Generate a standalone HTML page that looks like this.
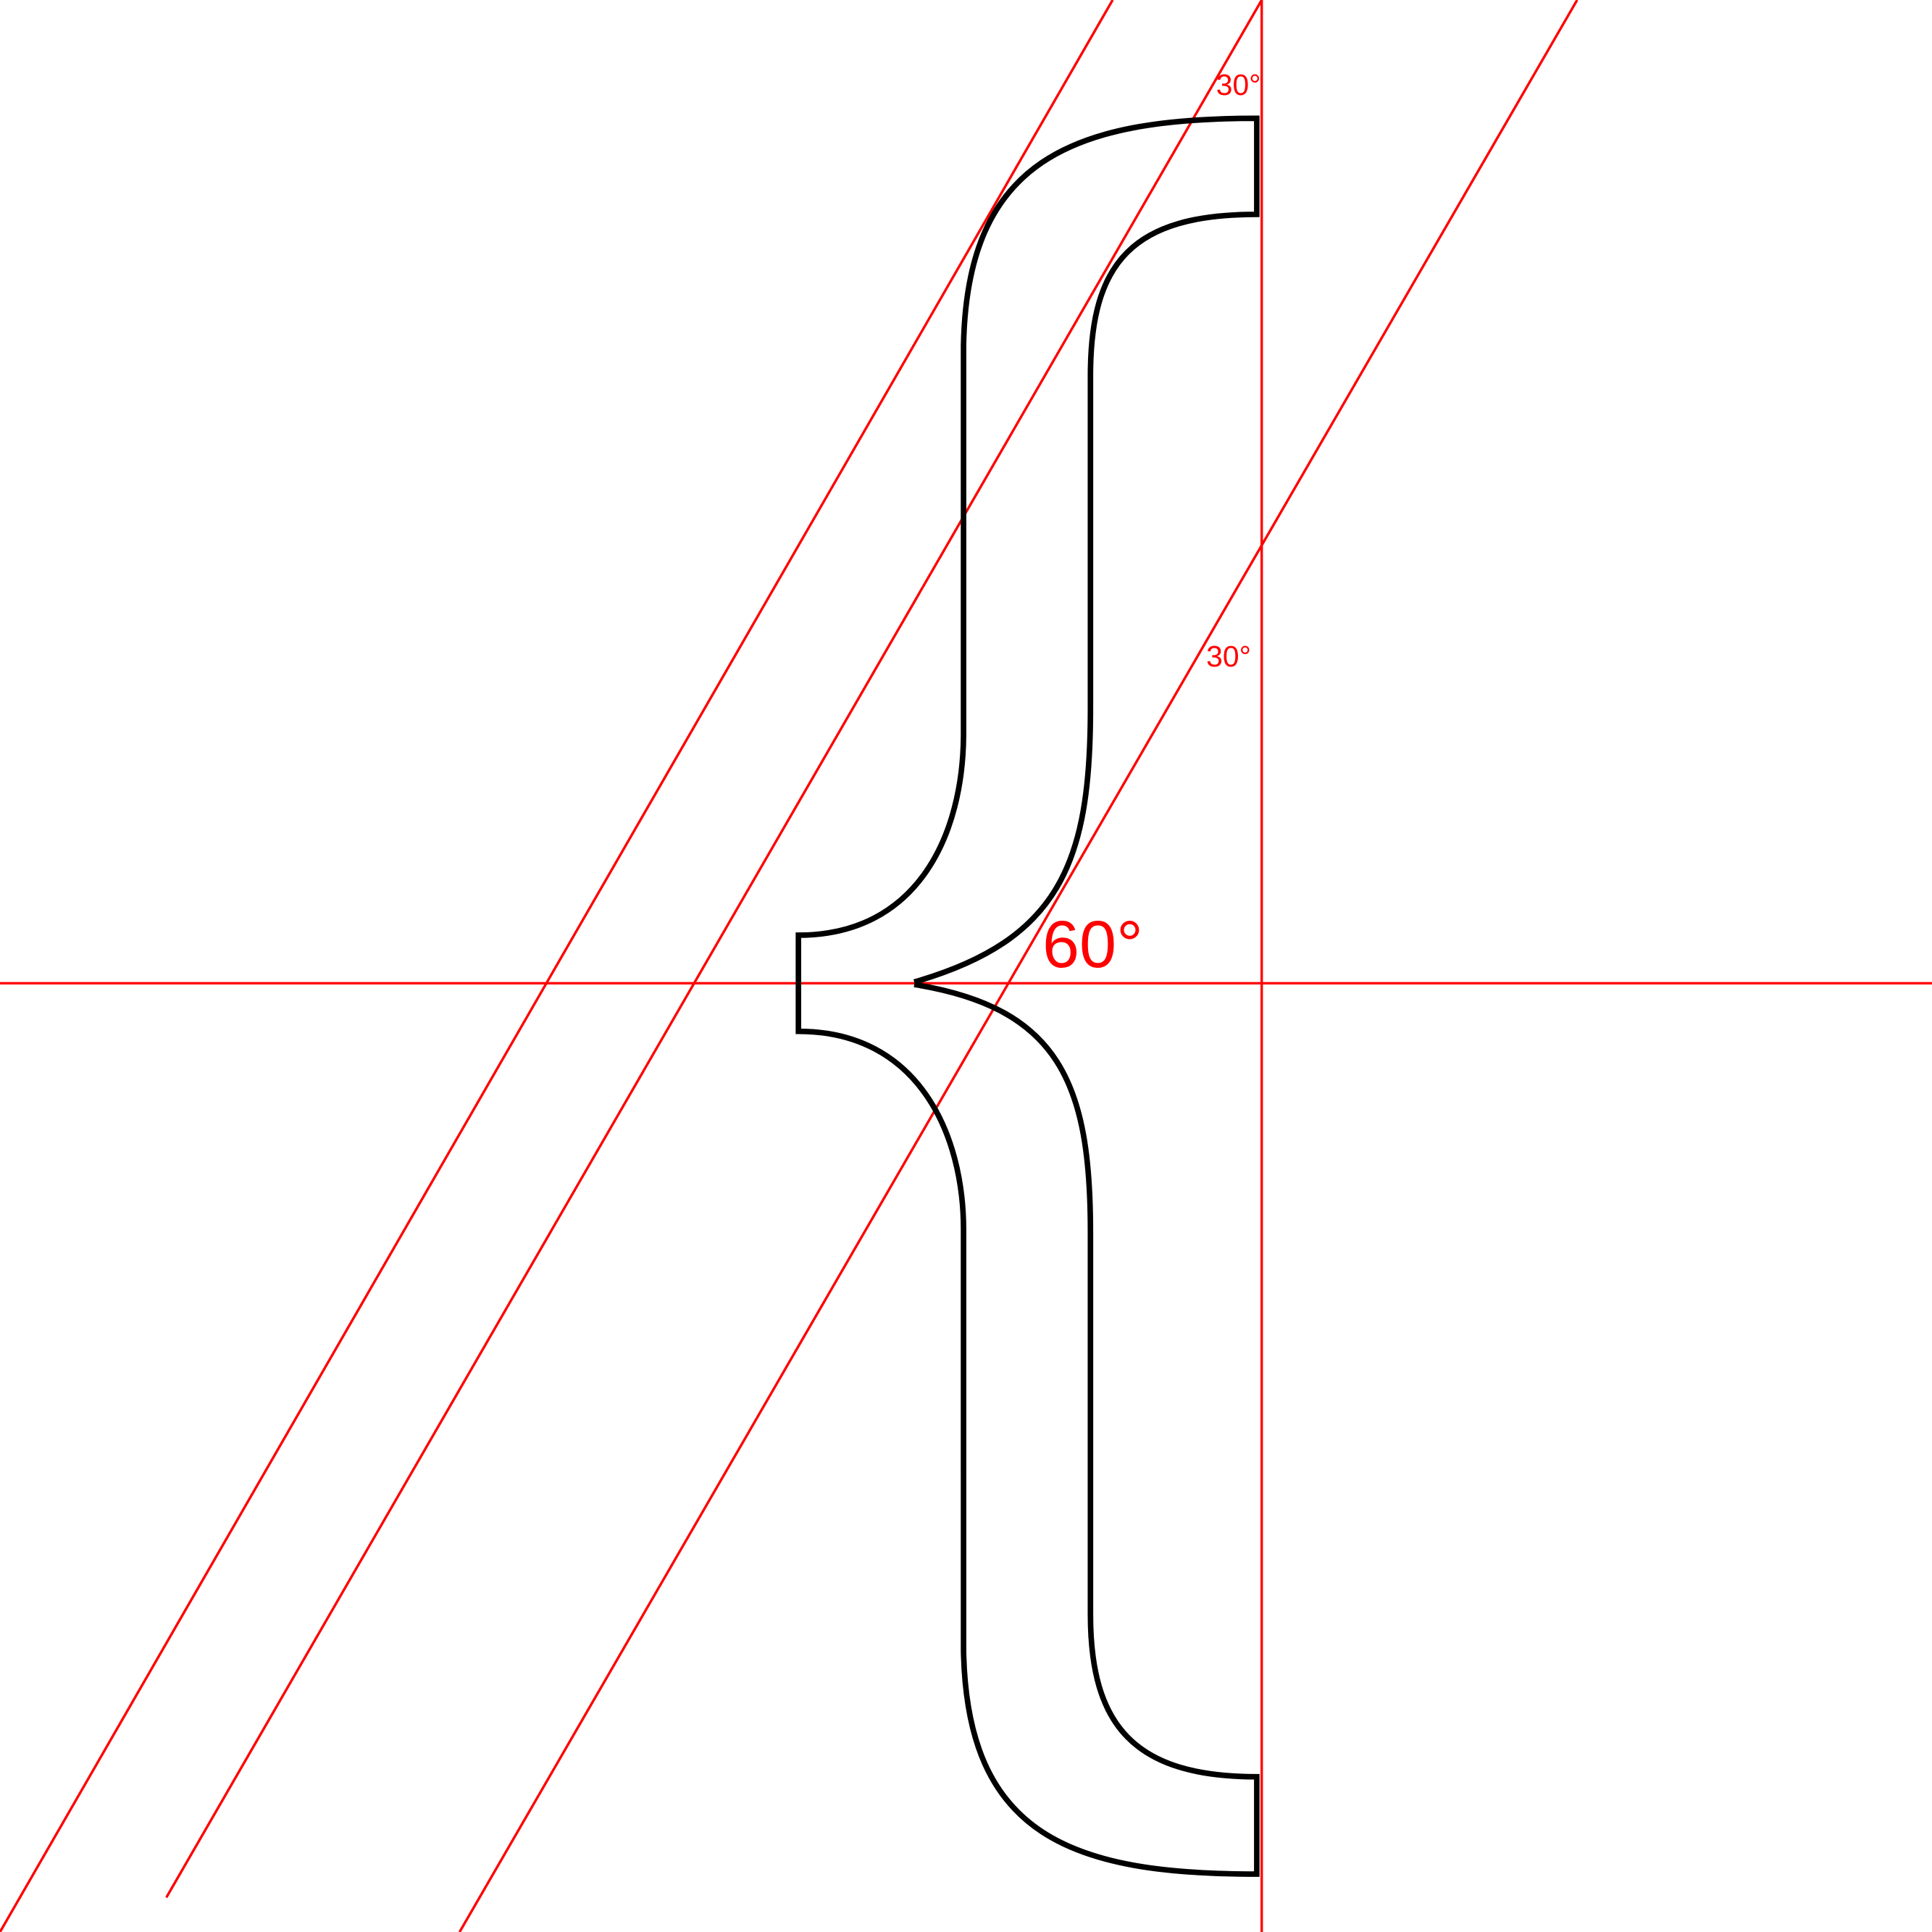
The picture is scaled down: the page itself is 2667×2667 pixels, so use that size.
<!DOCTYPE html>
<html>
<head>
<meta charset="utf-8">
<style>
html,body{margin:0;padding:0;background:#fff;}
svg{display:block;}
text{font-family:"Liberation Sans",sans-serif;fill:#ff0000;}
</style>
</head>
<body>
<svg width="2667" height="2667" viewBox="0 0 1568 1568" xmlns="http://www.w3.org/2000/svg">
  <rect width="1568" height="1568" fill="#fff"/>
  <g stroke="#ff0000" stroke-width="2" fill="none">
    <line x1="0" y1="1568" x2="903" y2="0"/>
    <line x1="135" y1="1540" x2="1024" y2="0"/>
    <line x1="373" y1="1568" x2="1280" y2="0"/>
    <line x1="1024" y1="0" x2="1024" y2="1568"/>
    <line x1="0" y1="798" x2="1568" y2="798"/>
  </g>
  <path fill="none" stroke="#000" stroke-width="4.5" stroke-linejoin="miter"
    d="M742,799 C860,818 885,880 885,1000 L885,1310 C885,1400 920,1442 1020,1442 L1020,1521
       C870,1521 785,1490 782,1340 L782,998 C782,920 745,837 648,837 L648,759
       C745,759 782,677 782,595 L782,280 C785,130 870,96 1020,96
       L1020,174 C920,174 885,212 885,305 L885,575 C885,700 860,763 742,797"/>
  <text x="987" y="77" font-size="24">30°</text>
  <text x="979" y="541" font-size="24">30°</text>
  <text x="846" y="785" font-size="54">60°</text>
</svg>
</body>
</html>
